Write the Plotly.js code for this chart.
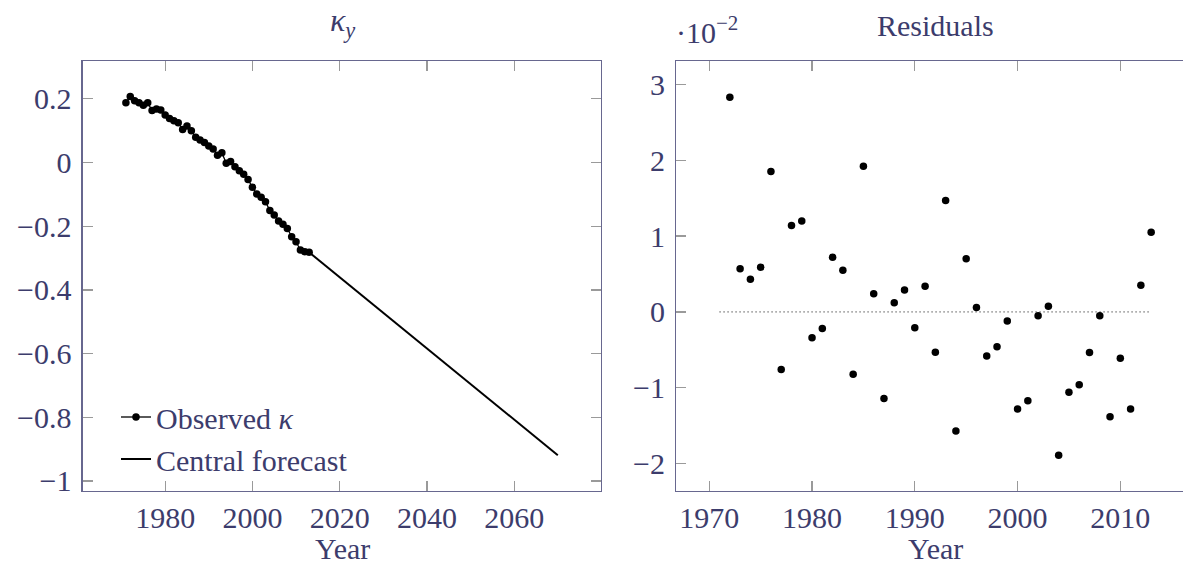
<!DOCTYPE html>
<html>
<head>
<meta charset="utf-8">
<script src="https://cdn.plot.ly/plotly-3.0.1.min.js"></script>
<style>html,body{margin:0;padding:0;background:#fff;}#chart{width:1183px;height:567px;}</style>
</head>
<body>
<div id="chart"></div>
<script>
// ---- data ----
const obsYears = [1971,1972,1973,1974,1975,1976,1977,1978,1979,1980,1981,1982,1983,1984,1985,1986,1987,1988,1989,1990,1991,1992,1993,1994,1995,1996,1997,1998,1999,2000,2001,2002,2003,2004,2005,2006,2007,2008,2009,2010,2011,2012,2013];
const obsKappa = [0.188,0.207,0.194,0.188,0.180,0.188,0.163,0.168,0.165,0.149,0.138,0.131,0.125,0.104,0.115,0.100,0.079,0.071,0.063,0.052,0.042,0.023,0.031,-0.002,0.003,-0.013,-0.026,-0.037,-0.053,-0.078,-0.099,-0.109,-0.123,-0.151,-0.165,-0.184,-0.194,-0.207,-0.233,-0.249,-0.275,-0.280,-0.282];
const fcYears = [2013, 2070];
const fcKappa = [-0.282, -0.919];

const resYears = [1972,1973,1974,1975,1976,1977,1978,1979,1980,1981,1982,1983,1984,1985,1986,1987,1988,1989,1990,1991,1992,1993,1994,1995,1996,1997,1998,1999,2000,2001,2002,2003,2004,2005,2006,2007,2008,2009,2010,2011,2012,2013];
// residuals in units of 10^-2
const resVals = [2.83,0.57,0.43,0.59,1.85,-0.76,1.14,1.20,-0.34,-0.22,0.72,0.55,-0.82,1.92,0.24,-1.14,0.12,0.29,-0.21,0.34,-0.53,1.47,-1.57,0.70,0.06,-0.58,-0.46,-0.12,-1.28,-1.17,-0.05,0.075,-1.89,-1.06,-0.96,-0.535,-0.05,-1.38,-0.61,-1.28,0.35,1.05];
const zeroYears = [1971, 2013];
const zeroVals = [0, 0];

const leftYTicks = [0.2, 0, -0.2, -0.4, -0.6, -0.8, -1];
const leftXTicks = [1980, 2000, 2020, 2040, 2060];
const rightYTicks = [-2, -1, 0, 1, 2, 3];
const rightXTicks = [1970, 1980, 1990, 2000, 2010];

// ---- style ----
const FONT = "Liberation Serif";
const TXT = "#3c3c6c";
const LINE = "#67678f";
const TICK = "#9a9a9a";
const W = 1183, H = 567;
const px = v => v / W;
const py = v => (H - v) / H;

const traces = [
  {x: obsYears, y: obsKappa, type: 'scatter', mode: 'lines+markers', name: 'Observed <i>κ</i>',
   line: {color: 'black', width: 1.3}, marker: {color: 'black', size: 7.5}, xaxis: 'x', yaxis: 'y'},
  {x: fcYears, y: fcKappa, type: 'scatter', mode: 'lines', name: 'Central forecast',
   line: {color: 'black', width: 2}, xaxis: 'x', yaxis: 'y'},
  {x: zeroYears, y: zeroVals, type: 'scatter', mode: 'lines', showlegend: false,
   line: {color: 'black', width: 1, dash: '1px,3px'}, xaxis: 'x2', yaxis: 'y2', hoverinfo: 'skip'},
  {x: resYears, y: resVals, type: 'scatter', mode: 'markers', showlegend: false,
   marker: {color: 'black', size: 7.5}, xaxis: 'x2', yaxis: 'y2'}
];

function ax(extra) {
  return Object.assign({
    showgrid: false, zeroline: false, showline: true, linecolor: LINE, linewidth: 1.3,
    ticks: 'inside', ticklen: 10, tickcolor: TICK, tickwidth: 1.3,
    tickfont: {family: FONT, size: 30, color: TXT}
  }, extra);
}

const layout = {
  width: W, height: H,
  margin: {l: 0, r: 0, t: 0, b: 0},
  paper_bgcolor: 'white', plot_bgcolor: 'white',
  font: {family: FONT, color: TXT, size: 30},
  showlegend: true,
  legend: {x: px(116), y: py(391), xanchor: 'left', yanchor: 'top',
           bgcolor: 'rgba(0,0,0,0)', borderwidth: 0,
           font: {family: FONT, size: 30, color: TXT}, tracegroupgap: 0},
  xaxis: ax({domain: [px(82.7), px(601)], range: [1961.1, 2079.9],
          tickvals: leftXTicks, mirror: 'ticks', anchor: 'y', ticklabelstandoff: 0}),
  yaxis: ax({domain: [py(490.7), py(61)], range: [-1.0305, 0.3187],
          tickvals: leftYTicks, mirror: 'ticks', anchor: 'x', ticklabelstandoff: 4}),
  xaxis2: ax({domain: [px(676.3), 1], range: [1966.79, 2016.1],
          tickvals: rightXTicks, mirror: 'ticks', anchor: 'y2', ticklabelstandoff: 0}),
  yaxis2: ax({domain: [py(490.7), py(61)], range: [-2.356, 3.307],
          tickvals: rightYTicks, mirror: false, anchor: 'x2', ticklabelstandoff: 4}),
  annotations: [
    {text: '<i>κ<sub>y</sub></i>', xref: 'paper', yref: 'paper', x: px(342), y: py(22),
     xanchor: 'center', yanchor: 'middle', showarrow: false, font: {family: FONT, size: 32, color: TXT}},
    {text: 'Residuals', xref: 'paper', yref: 'paper', x: px(935), y: py(25),
     xanchor: 'center', yanchor: 'middle', showarrow: false, font: {family: FONT, size: 30, color: TXT}},
    {text: '·10<sup>−2</sup>', xref: 'paper', yref: 'paper', x: px(674), y: py(30),
     xanchor: 'left', yanchor: 'middle', showarrow: false, font: {family: FONT, size: 30, color: TXT}},
    {text: 'Year', xref: 'paper', yref: 'paper', x: px(342), y: py(548),
     xanchor: 'center', yanchor: 'middle', showarrow: false, font: {family: FONT, size: 30, color: TXT}},
    {text: 'Year', xref: 'paper', yref: 'paper', x: px(935), y: py(548),
     xanchor: 'center', yanchor: 'middle', showarrow: false, font: {family: FONT, size: 30, color: TXT}}
  ]
};

Plotly.newPlot('chart', traces, layout, {displayModeBar: false, staticPlot: true});
</script>
</body>
</html>
